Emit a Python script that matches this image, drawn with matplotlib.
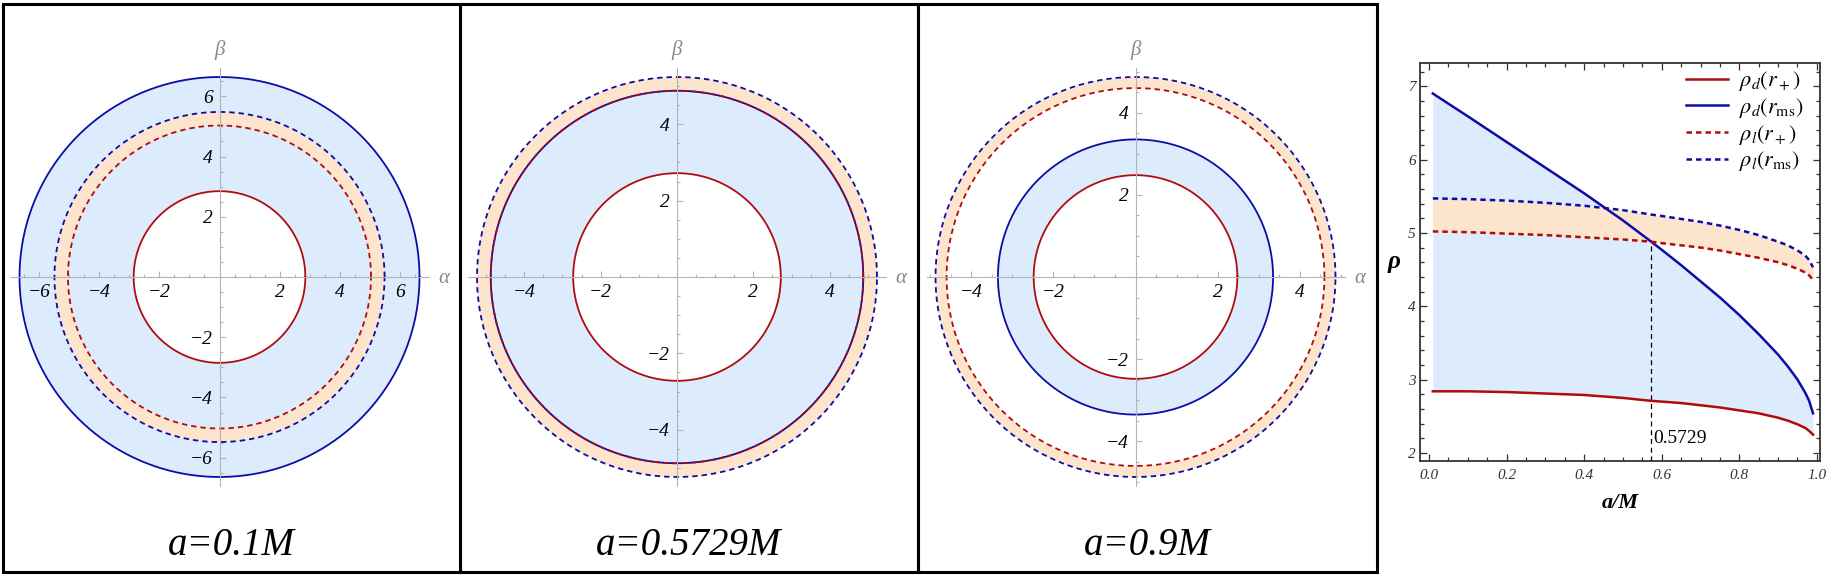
"""
Shadow / disk radii for three spins plus rho(a) summary panel.
"""

import numpy as np
import matplotlib
matplotlib.use("Agg")
import matplotlib.pyplot as plt
import matplotlib.patches as patches
from matplotlib.ticker import FixedLocator, MultipleLocator

# ---- data ------------------------------------------------------------------
a_vals     = [0.01, 0.1, 0.2, 0.3, 0.4, 0.5, 0.5729, 0.6, 0.65, 0.7, 0.75, 0.8,
              0.85, 0.9, 0.925, 0.95, 0.97, 0.98, 0.99]
rho_d_plus = [2.84, 2.84, 2.83, 2.81, 2.79, 2.75, 2.71, 2.70, 2.68, 2.65, 2.62, 2.58,
              2.54, 2.48, 2.44, 2.39, 2.34, 2.30, 2.25]
rho_d_ms   = [6.90, 6.59, 6.24, 5.89, 5.54, 5.17, 4.88, 4.77, 4.56, 4.34, 4.12, 3.88,
              3.62, 3.34, 3.18, 3.00, 2.82, 2.71, 2.54]
rho_l_plus = [5.02, 5.01, 4.99, 4.97, 4.94, 4.91, 4.88, 4.86, 4.83, 4.80, 4.76, 4.71,
              4.66, 4.60, 4.56, 4.51, 4.46, 4.42, 4.36]
rho_l_ms   = [5.47, 5.46, 5.44, 5.41, 5.37, 5.31, 5.25, 5.23, 5.19, 5.15, 5.10, 5.04,
              4.97, 4.88, 4.83, 4.76, 4.69, 4.63, 4.53]

a_crit = 0.5729
rho_crit = 4.88

# ---- the three ring panels ---------------------------------------------------
panel_titles = ["a=0.1M", "a=0.5729M", "a=0.9M"]
ring_d_plus = [2.85, 2.72, 2.48]
ring_d_ms   = [6.64, 4.88, 3.35]
ring_l_plus = [5.03, 4.88, 4.60]
ring_l_ms   = [5.48, 5.24, 4.87]
panel_ticks = [[-6, -4, -2, 2, 4, 6], [-4, -2, 2, 4], [-4, -2, 2, 4]]

BLUE = "#0c0ca6"
RED = "#b00c0c"
LIGHT_BLUE = "#dcecfc"
LIGHT_ORANGE = "#fde4cc"
AXIS_GREY = "#b4b4b4"
SERIF = "Liberation Serif"

plt.rcParams["font.family"] = SERIF
plt.rcParams["mathtext.fontset"] = "stix"

W, H = 1827, 581
fig = plt.figure(figsize=(W / 100, H / 100), dpi=100)


def fig_rect(x0, y0, x1, y1):
    # pixel box (top-left origin) -> figure fraction rect
    return [x0 / W, 1 - y1 / H, (x1 - x0) / W, (y1 - y0) / H]


def minus(v):
    return f"{v:g}".replace("-", "\u2212")


panel_edges = [(3, 460), (460, 918), (918, 1377)]
panel_top, panel_bot = 4, 572
centre_y = 277
outer_px = 200          # outermost ring always ends up ~200 px in radius
theta = np.linspace(0, 2 * np.pi, 500)

for i, (x0, x1) in enumerate(panel_edges):
    ax = fig.add_axes(fig_rect(x0, panel_top, x1, panel_bot))
    ax.patch.set_visible(False)
    r_out = max(ring_d_ms[i], ring_l_ms[i])
    s = outer_px / r_out
    cx = (x0 + x1) / 2 - 12
    ax.set_xlim((x0 - cx) / s, (x1 - cx) / s)
    ax.set_ylim((centre_y - panel_bot) / s, (centre_y - panel_top) / s)
    L = 1.045 * r_out

    ax.add_patch(patches.Wedge((0, 0), ring_d_ms[i], 0, 360,
                               width=ring_d_ms[i] - ring_d_plus[i],
                               facecolor=LIGHT_BLUE, edgecolor="none", zorder=1))
    ax.add_patch(patches.Wedge((0, 0), ring_l_ms[i], 0, 360,
                               width=ring_l_ms[i] - ring_l_plus[i],
                               facecolor=LIGHT_ORANGE, edgecolor="none", zorder=1.1))

    rings = [(ring_d_plus[i], RED, "-"), (ring_d_ms[i], BLUE, "-"),
             (ring_l_plus[i], RED, "--"), (ring_l_ms[i], BLUE, "--")]
    for r, col, ls in rings:
        kw = dict(color=col, lw=1.3, zorder=3)
        if ls == "--":
            kw["dashes"] = (3.0, 2.2)
        ax.plot(r * np.cos(theta), r * np.sin(theta), **kw)

    # Mathematica style axes through the origin
    for side in ("top", "right"):
        ax.spines[side].set_visible(False)
    for side in ("left", "bottom"):
        ax.spines[side].set_position("zero")
        ax.spines[side].set_bounds(-L, L)
        ax.spines[side].set_color(AXIS_GREY)
        ax.spines[side].set_linewidth(0.8)
        ax.spines[side].set_zorder(4)

    ticks = panel_ticks[i]
    n = int(L // 0.5)
    minors = [k * 0.5 for k in range(-n, n + 1) if k % 4 != 0]
    ax.set_xticks(ticks)
    ax.set_xticklabels([minus(t) for t in ticks])
    ax.set_yticks(ticks)
    ax.set_yticklabels([minus(t) for t in ticks])
    ax.xaxis.set_minor_locator(FixedLocator(minors))
    ax.yaxis.set_minor_locator(FixedLocator(minors))
    ax.tick_params(which="both", direction="in", color=AXIS_GREY, width=0.8)
    ax.tick_params(which="major", length=4.0, labelsize=14, labelcolor="black")
    ax.tick_params(which="minor", length=2.2)
    ax.tick_params(axis="x", pad=5)
    ax.tick_params(axis="y", pad=5)
    for lab in ax.get_xticklabels() + ax.get_yticklabels():
        lab.set_fontstyle("italic")

    ax.annotate("α", xy=(L, 0), xytext=(11, -1), textcoords="offset points",
                ha="center", va="center", fontsize=15, style="italic", color="#888888")
    ax.annotate("β", xy=(0, L), xytext=(0, 13), textcoords="offset points",
                ha="center", va="center", fontsize=15, style="italic", color="#888888")

    ax.text(0.5, (panel_bot - 555) / (panel_bot - panel_top), panel_titles[i],
            transform=ax.transAxes, ha="center", va="baseline",
            fontsize=28, style="italic")

    fig.add_artist(patches.Rectangle((x0 / W, 1 - panel_bot / H), (x1 - x0) / W,
                                     (panel_bot - panel_top) / H,
                                     transform=fig.transFigure, fill=False,
                                     lw=2.2, edgecolor="black", zorder=5))

# ---- rho vs a/M --------------------------------------------------------------
ax = fig.add_axes(fig_rect(1420, 62.7, 1820, 461))
ax.set_xlim(-0.023, 1.008)
ax.set_ylim(1.89, 7.32)

ax.fill_between(a_vals, rho_d_plus, rho_d_ms, color=LIGHT_BLUE, lw=0, zorder=1)
ax.fill_between(a_vals, rho_l_plus, rho_l_ms, color=LIGHT_ORANGE, lw=0, zorder=1.1)

ax.plot(a_vals, rho_d_plus, color=RED, lw=1.8, label=r"$\rho_d(r_+)$", zorder=3)
ax.plot(a_vals, rho_d_ms, color=BLUE, lw=1.8, label=r"$\rho_d(r_{\rm ms})$", zorder=3)
ax.plot(a_vals, rho_l_plus, color=RED, lw=1.8, dashes=(2.2, 1.6),
        label=r"$\rho_l(r_+)$", zorder=3)
ax.plot(a_vals, rho_l_ms, color=BLUE, lw=1.8, dashes=(2.2, 1.6),
        label=r"$\rho_l(r_{\rm ms})$", zorder=3)

ax.vlines(a_crit, ax.get_ylim()[0], rho_crit, color="black", lw=0.9,
          linestyles=(0, (4, 3)), zorder=2)
ax.text(a_crit + 0.005, 2.2, f"{a_crit}", fontsize=14, ha="left", va="center")

ax.xaxis.set_major_locator(MultipleLocator(0.2))
ax.xaxis.set_minor_locator(MultipleLocator(0.05))
ax.yaxis.set_major_locator(MultipleLocator(1))
ax.yaxis.set_minor_locator(MultipleLocator(0.2))
ax.xaxis.set_major_formatter(lambda v, p: f"{v:.1f}")
ax.yaxis.set_major_formatter(lambda v, p: f"{v:.0f}")
ax.tick_params(which="both", direction="in", top=True, right=True,
               color="#333333", width=0.9)
ax.tick_params(which="major", length=5, labelsize=11, labelcolor="#333333")
ax.tick_params(which="minor", length=3)
ax.tick_params(axis="x", pad=6)
ax.tick_params(axis="y", pad=3)
for lab in ax.get_xticklabels() + ax.get_yticklabels():
    lab.set_fontstyle("italic")
for sp in ax.spines.values():
    sp.set_linewidth(1.3)
    sp.set_color("#333333")

ax.set_xlabel("a/M", fontsize=16, fontweight="bold", style="italic", labelpad=8)
ax.set_ylabel("ρ", fontsize=18, fontweight="bold", style="italic",
              rotation=0, va="center", labelpad=10)

ax.legend(loc="upper right", bbox_to_anchor=(0.975, 1.0), frameon=False,
          fontsize=16, handlelength=1.9, handletextpad=0.5, labelspacing=0.12,
          borderpad=0.2, borderaxespad=0.1)

fig.savefig("out.png", dpi=100)
